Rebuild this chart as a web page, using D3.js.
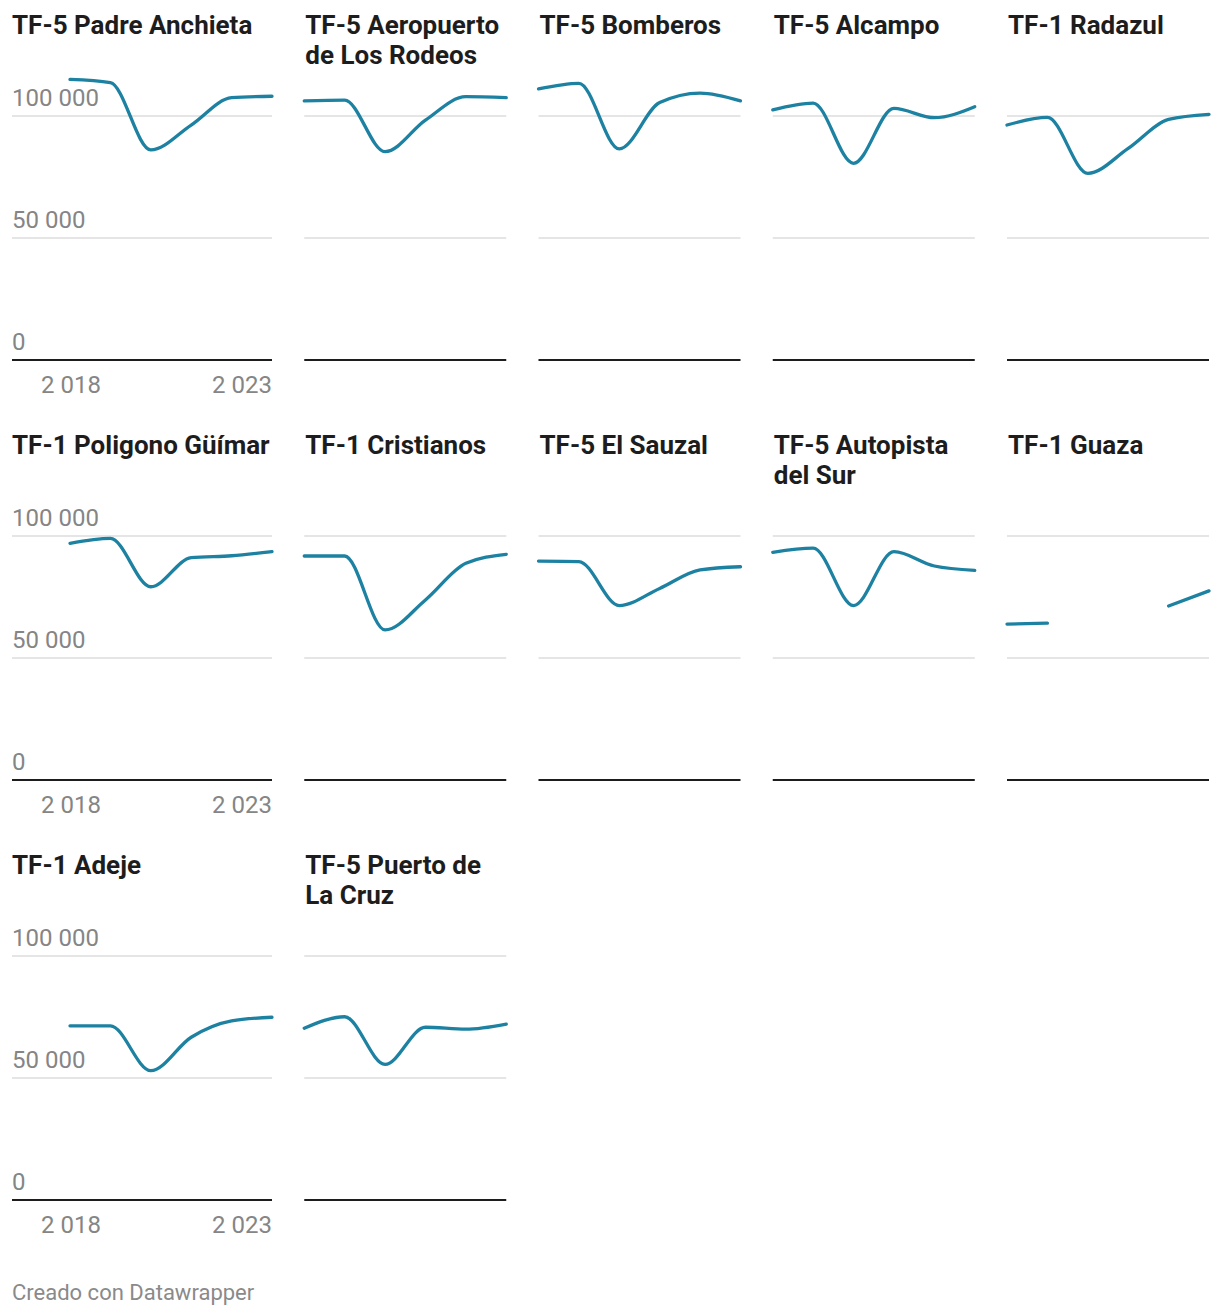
<!DOCTYPE html>
<html><head><meta charset="utf-8">
<script src="https://cdn.jsdelivr.net/npm/d3@7"></script>
<style>
body{margin:0;background:#fff;}
svg{display:block;font-family:Roboto, "Noto Sans", sans-serif;}
</style>
</head><body>
<svg id="c" width="1220" height="1316"></svg>
<script>
// ---- data ----
const years = [2018, 2019, 2020, 2021, 2022, 2023];
const stations = [
  "TF-5 Padre Anchieta", "TF-5 Aeropuerto de Los Rodeos", "TF-5 Bomberos", "TF-5 Alcampo", "TF-1 Radazul",
  "TF-1 Poligono Güímar", "TF-1 Cristianos", "TF-5 El Sauzal", "TF-5 Autopista del Sur", "TF-1 Guaza",
  "TF-1 Adeje", "TF-5 Puerto de La Cruz"
];
const padreAnchieta = [115000, 113700, 86100, 96300, 107500, 108100];
const aeropuertoRodeos = [106200, 106500, 85400, 98300, 107900, 107500];
const bomberos = [111100, 113400, 86500, 105500, 109400, 106200];
const alcampo = [102500, 105300, 80600, 103100, 99300, 103800];
const radazul = [96300, 99400, 76500, 86700, 98600, 100700];
const poligonoGuimar = [97000, 99000, 79200, 91100, 91900, 93600];
const cristianos = [91800, 91800, 61500, 73800, 88800, 92500];
const elSauzal = [89700, 89500, 71500, 78500, 86100, 87400];
const autopistaSur = [93300, 95000, 71500, 93600, 87700, 85900];
const guaza = [63900, 64300, null, null, 71300, 77500];
const adeje = [71400, 71400, 53000, 66700, 73400, 74900];
const puertoCruz = [70400, 75100, 55600, 70800, 70000, 72100];
const seriesValues = [padreAnchieta, aeropuertoRodeos, bomberos, alcampo, radazul,
  poligonoGuimar, cristianos, elSauzal, autopistaSur, guaza, adeje, puertoCruz];
const yTicks = [0, 50000, 100000];
const xTicks = [2018, 2023];
const footer = "Creado con Datawrapper";

// ---- layout ----
const svg = d3.select("#c");
const nCols = 5;
const plotW = 202, firstX = 70, colPitch = 234.25, leftEdge = 12;
const rowPitch = 420, base0 = 360, px100k = 244;
const lineColor = "#1d81a2", gray = "#858585", dark = "#1d1d1d";

const loc = d3.formatLocale({decimal: ",", thousands: "\u00a0", grouping: [3], currency: ["", "€"]});
const fmt = loc.format(",d");

stations.forEach((name, k) => {
  const col = k % nCols, row = Math.floor(k / nCols);
  const x0 = firstX + col * colPitch;
  const base = base0 + row * rowPitch;
  const g = svg.append("g");
  const x = d3.scaleLinear().domain([years[0], years[years.length - 1]]).range([x0, x0 + plotW]);
  const y = d3.scaleLinear().domain([0, 100000]).range([base, base - px100k]);
  const gx0 = col === 0 ? leftEdge : x0;

  // title with wrapping
  const tx = col === 0 ? leftEdge : x0 + 1;
  const maxW = (x0 + plotW) - tx + 4;
  const title = g.append("text").attr("x", tx).attr("y", 34 + row * rowPitch)
    .attr("font-size", 26).attr("font-weight", 700).attr("fill", dark);
  const words = name.split(" ");
  let line = [];
  let tspan = title.append("tspan").attr("x", tx).attr("dy", 0);
  words.forEach(w => {
    line.push(w);
    tspan.text(line.join(" "));
    if (tspan.node().getComputedTextLength() > maxW && line.length > 1) {
      line.pop();
      tspan.text(line.join(" "));
      line = [w];
      tspan = title.append("tspan").attr("x", tx).attr("dy", 30).text(w);
    }
  });

  // gridlines
  yTicks.filter(v => v > 0).forEach(v => {
    g.append("line").attr("x1", gx0).attr("x2", x0 + plotW)
      .attr("y1", y(v)).attr("y2", y(v))
      .attr("stroke", "#e5e5e5").attr("stroke-width", 2);
  });
  // y labels in first column
  if (col === 0) {
    yTicks.forEach(v => {
      g.append("text").attr("x", leftEdge).attr("y", y(v) - 10)
        .attr("font-size", 24).attr("fill", gray).text(fmt(v));
    });
    xTicks.forEach((t, i) => {
      g.append("text").attr("x", x(t) + (i === xTicks.length - 1 ? 0 : 1)).attr("y", base + 33)
        .attr("text-anchor", i === xTicks.length - 1 ? "end" : "middle")
        .attr("font-size", 24).attr("fill", gray).text(fmt(t));
    });
  }

  // line
  const data = years.map((yr, i) => ({yr, v: seriesValues[k][i]}));
  const lineGen = d3.line().defined(d => d.v != null)
    .x(d => x(d.yr)).y(d => y(d.v)).curve(d3.curveMonotoneX);
  g.append("path").datum(data).attr("d", lineGen)
    .attr("fill", "none").attr("stroke", lineColor).attr("stroke-width", 3.3)
    .attr("stroke-linecap", "round").attr("stroke-linejoin", "round");

  // baseline
  g.append("line").attr("x1", gx0).attr("x2", x0 + plotW)
    .attr("y1", y(0)).attr("y2", y(0)).attr("stroke", dark).attr("stroke-width", 2);
});

svg.append("text").attr("x", leftEdge).attr("y", 1300)
  .attr("font-size", 22).attr("fill", "#8a8a8a").text(footer);
</script>
</body></html>
